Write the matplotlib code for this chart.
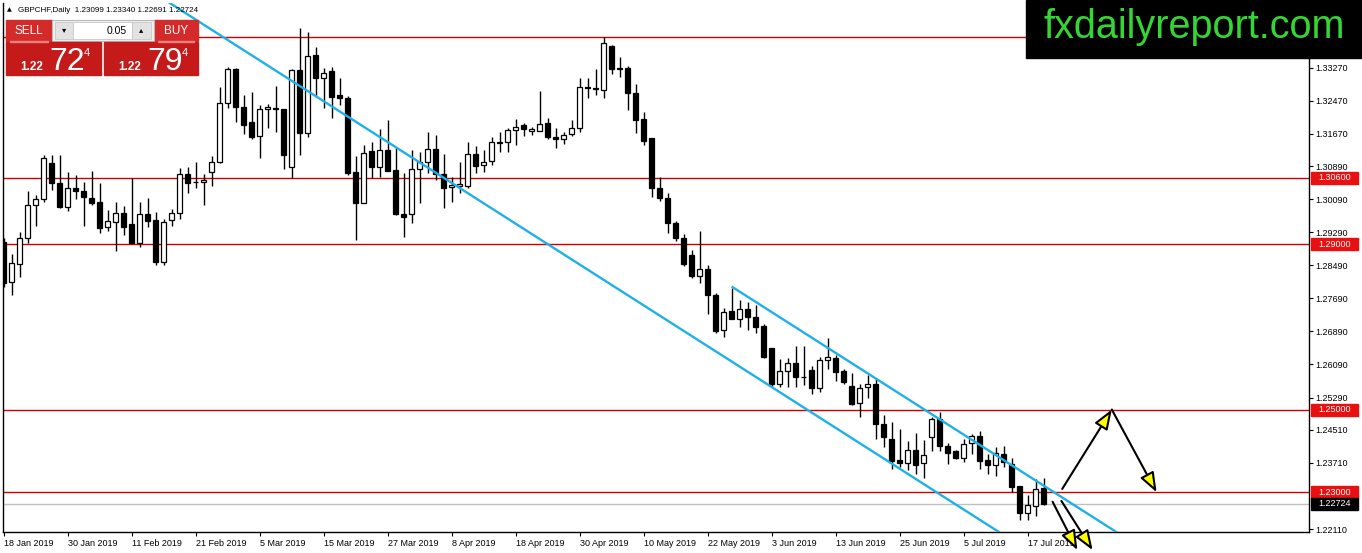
import matplotlib
matplotlib.use("Agg")
import matplotlib.pyplot as plt
import matplotlib.transforms as mtrans
from matplotlib.patches import Rectangle
import numpy as np

plt.rcParams['font.family'] = ['Liberation Sans', 'DejaVu Sans']

# GBPCHF daily candles, 18 Jan 2019 .. 19 Jul 2019
opens = [1.2906, 1.2808, 1.2851, 1.2914, 1.2994, 1.3008, 1.3096, 1.3047, 1.2989, 1.3036,
         1.3029, 1.3012, 1.3002, 1.2941, 1.2954, 1.2975, 1.2949, 1.2903, 1.2973, 1.2958,
         1.2858, 1.2958, 1.2975, 1.3069, 1.3050, 1.3050, 1.3074, 1.3098, 1.3241, 1.3324,
         1.3231, 1.3195, 1.3162, 1.3226, 1.3229, 1.3226, 1.3086, 1.3321, 1.3168, 1.3358,
         1.3303, 1.3319, 1.3261, 1.3254, 1.3074, 1.3000, 1.3125, 1.3086, 1.3128, 1.3079,
         1.2973, 1.2972, 1.3081, 1.3098, 1.3130, 1.3069, 1.3038, 1.3040, 1.3041, 1.3118,
         1.3091, 1.3101, 1.3145, 1.3146, 1.3176, 1.3187, 1.3174, 1.3174, 1.3192, 1.3159,
         1.3154, 1.3166, 1.3182, 1.3279, 1.3277, 1.3273, 1.3379, 1.3324, 1.3325, 1.3265,
         1.3202, 1.3156, 1.3035, 1.3011, 1.2950, 1.2916, 1.2874, 1.2823, 1.2841, 1.2777,
         1.2692, 1.2738, 1.2720, 1.2742, 1.2723, 1.2702, 1.2648, 1.2563, 1.2593, 1.2612,
         1.2578, 1.2595, 1.2551, 1.2620, 1.2625, 1.2593, 1.2557, 1.2515, 1.2555, 1.2562,
         1.2465, 1.2430, 1.2378, 1.2370, 1.2403, 1.2370, 1.2433, 1.2478, 1.2412, 1.2399,
         1.2384, 1.2420, 1.2436, 1.2378, 1.2366, 1.2392, 1.2368, 1.2315, 1.2249, 1.2266,
         1.23099]
highs = [1.2915, 1.2876, 1.2930, 1.3029, 1.3019, 1.3115, 1.3115, 1.3115, 1.3074, 1.3067,
         1.3050, 1.3077, 1.3047, 1.2983, 1.3001, 1.2992, 1.3059, 1.3001, 1.3012, 1.2977,
         1.2961, 1.2984, 1.3083, 1.3087, 1.3099, 1.3070, 1.3113, 1.3281, 1.3329, 1.3327,
         1.3261, 1.3267, 1.3237, 1.3238, 1.3283, 1.3228, 1.3324, 1.3422, 1.3414, 1.3376,
         1.3327, 1.3329, 1.3301, 1.3259, 1.3112, 1.3140, 1.3148, 1.3178, 1.3200, 1.3132,
         1.3071, 1.3128, 1.3124, 1.3171, 1.3164, 1.3118, 1.3063, 1.3099, 1.3146, 1.3137,
         1.3128, 1.3160, 1.3171, 1.3182, 1.3202, 1.3192, 1.3184, 1.3271, 1.3204, 1.3180,
         1.3172, 1.3200, 1.3301, 1.3303, 1.3323, 1.3400, 1.3382, 1.3352, 1.3331, 1.3287,
         1.3220, 1.3157, 1.3063, 1.3023, 1.2957, 1.2924, 1.2886, 1.2932, 1.2850, 1.2781,
         1.2745, 1.2795, 1.2765, 1.2761, 1.2753, 1.2708, 1.2649, 1.2622, 1.2624, 1.2653,
         1.2653, 1.2605, 1.2628, 1.2672, 1.2632, 1.2599, 1.2589, 1.2563, 1.2583, 1.2573,
         1.2488, 1.2470, 1.2454, 1.2424, 1.2444, 1.2426, 1.2481, 1.2493, 1.2418, 1.2402,
         1.2428, 1.2442, 1.2448, 1.2392, 1.2410, 1.2411, 1.2382, 1.2316, 1.2293, 1.2332,
         1.23340]
lows = [1.2796, 1.2777, 1.2821, 1.2903, 1.2945, 1.3003, 1.3031, 1.2987, 1.2981, 1.3008,
        1.2945, 1.2995, 1.2928, 1.2933, 1.2884, 1.2922, 1.2902, 1.2894, 1.2942, 1.2849,
        1.2849, 1.2945, 1.2960, 1.3023, 1.3037, 1.2995, 1.3041, 1.3096, 1.3229, 1.3196,
        1.3166, 1.3154, 1.3109, 1.3182, 1.3172, 1.3081, 1.3059, 1.3116, 1.3158, 1.3257,
        1.3230, 1.3204, 1.3237, 1.3067, 1.2910, 1.2999, 1.3059, 1.3063, 1.3076, 1.2971,
        1.2918, 1.2950, 1.3000, 1.3071, 1.3055, 1.2987, 1.3003, 1.3023, 1.3035, 1.3073,
        1.3075, 1.3091, 1.3124, 1.3124, 1.3140, 1.3162, 1.3164, 1.3173, 1.3154, 1.3132,
        1.3142, 1.3162, 1.3172, 1.3254, 1.3261, 1.3253, 1.3311, 1.3305, 1.3225, 1.3168,
        1.3140, 1.3013, 1.3005, 1.2928, 1.2908, 1.2848, 1.2817, 1.2807, 1.2730, 1.2684,
        1.2676, 1.2718, 1.2700, 1.2692, 1.2684, 1.2624, 1.2555, 1.2554, 1.2554, 1.2555,
        1.2559, 1.2537, 1.2543, 1.2599, 1.2569, 1.2563, 1.2511, 1.2481, 1.2527, 1.2430,
        1.2410, 1.2357, 1.2362, 1.2353, 1.2343, 1.2335, 1.2400, 1.2400, 1.2368, 1.2380,
        1.2374, 1.2392, 1.2357, 1.2345, 1.2340, 1.2362, 1.2301, 1.2234, 1.2232, 1.2243,
        1.22691]
closes = [1.2805, 1.2854, 1.2916, 1.2995, 1.3008, 1.3108, 1.3047, 1.2989, 1.3035, 1.3028,
          1.3013, 1.3000, 1.2940, 1.2955, 1.2975, 1.2941, 1.2903, 1.2972, 1.2957, 1.2857,
          1.2954, 1.2975, 1.3069, 1.3047, 1.3051, 1.3056, 1.3098, 1.3241, 1.3324, 1.3231,
          1.3188, 1.3158, 1.3226, 1.3232, 1.3226, 1.3116, 1.3321, 1.3168, 1.3356, 1.3303,
          1.3313, 1.3257, 1.3253, 1.3073, 1.3000, 1.3120, 1.3087, 1.3128, 1.3078, 1.2972,
          1.2965, 1.3081, 1.3099, 1.3130, 1.3069, 1.3035, 1.3043, 1.3045, 1.3117, 1.3090,
          1.3098, 1.3146, 1.3147, 1.3176, 1.3184, 1.3178, 1.3179, 1.3190, 1.3158, 1.3154,
          1.3163, 1.3180, 1.3279, 1.3278, 1.3275, 1.3386, 1.3323, 1.3325, 1.3265, 1.3200,
          1.3150, 1.3035, 1.3011, 1.2950, 1.2916, 1.2851, 1.2823, 1.2839, 1.2777, 1.2690,
          1.2735, 1.2720, 1.2742, 1.2723, 1.2700, 1.2628, 1.2561, 1.2593, 1.2612, 1.2578,
          1.2579, 1.2551, 1.2620, 1.2626, 1.2591, 1.2567, 1.2513, 1.2553, 1.2561, 1.2464,
          1.2434, 1.2376, 1.2370, 1.2403, 1.2367, 1.2391, 1.2476, 1.2412, 1.2396, 1.2383,
          1.2416, 1.2436, 1.2375, 1.2365, 1.2394, 1.2372, 1.2313, 1.2249, 1.2269, 1.2309,
          1.22724]

date_ticks = [0, 8, 16, 24, 32, 40, 48, 56, 64, 72, 80, 88, 96, 104, 112, 120, 128]
date_labels = ["18 Jan 2019", "30 Jan 2019", "11 Feb 2019", "21 Feb 2019", "5 Mar 2019",
               "15 Mar 2019", "27 Mar 2019", "8 Apr 2019", "18 Apr 2019", "30 Apr 2019",
               "10 May 2019", "22 May 2019", "3 Jun 2019", "13 Jun 2019", "25 Jun 2019",
               "5 Jul 2019", "17 Jul 2019"]
price_ticks = [1.33270, 1.32470, 1.31670, 1.30890, 1.30090, 1.29290, 1.28490, 1.27690,
               1.26890, 1.26090, 1.25290, 1.24510, 1.23710, 1.22110]

levels = [1.34000, 1.30600, 1.29000, 1.25000, 1.23000]
level_labels = [None, "1.30600", "1.29000", "1.25000", "1.23000"]
bid = 1.22724

# trend channel (two anchor points each)
line_a = [(21.0, 1.3480), (126.0, 1.2184)]
line_c = [(91.1, 1.2796), (141.0, 1.2180)]

# hand drawn arrows: (start, tip)
arrows = [((132.3, 1.2308), (138.5, 1.2500)),
          ((138.5, 1.2500), (144.1, 1.2300)),
          ((131.1, 1.2277), (134.2, 1.2160)),
          ((132.2, 1.2279), (136.1, 1.2160))]

W, H = 1362, 553
fig = plt.figure(figsize=(W / 100, H / 100), dpi=100)
fig.patch.set_facecolor("white")

def fxy(px, py):
    return px / W, 1 - py / H

ax = fig.add_axes([3 / W, 1 - 532 / H, 1306 / W, 529 / H])
ax.set_facecolor("white")
x0 = -0.1
ax.set_xlim(x0, x0 + 1306 / 8)
ax.set_ylim(1.22039, 1.34832)

idx = np.arange(len(opens))
o = np.array(opens); h = np.array(highs); l = np.array(lows); c = np.array(closes)

# horizontal levels and bid line
for lv in levels:
    ax.axhline(lv, color="#cc0000", lw=1, zorder=1)
ax.axhline(bid, color="#c0c0c0", lw=1, zorder=1)

# candles
ax.vlines(idx, l, h, color="black", lw=1, zorder=2)
up = c >= o
ax.bar(idx, np.abs(c - o), bottom=np.minimum(o, c), width=0.62,
       color=np.where(up, "white", "black"), edgecolor="black", linewidth=0.9, zorder=3)

# channel lines
blue = "#1fb1e6"
ax.axline(line_a[0], line_a[1], color=blue, lw=1.7, zorder=4)
ax.plot([line_c[0][0], line_c[1][0]], [line_c[0][1], line_c[1][1]], color=blue, lw=1.7, zorder=4)

for start, tip in arrows:
    ax.annotate("", xy=tip, xytext=start, annotation_clip=False, zorder=6,
                arrowprops=dict(arrowstyle="-|>,head_length=1.2,head_width=0.45",
                                fc="#ffff00", ec="black", lw=1.5, shrinkA=0, shrinkB=0))

# axes styling
ax.spines["top"].set_visible(False)
for s in ["left", "right", "bottom"]:
    ax.spines[s].set_color("black")
    ax.spines[s].set_linewidth(1)
ax.yaxis.tick_right()
ax.set_yticks(price_ticks, [f"{p:.5f}" for p in price_ticks])
ax.tick_params(axis="y", direction="out", length=3, width=0.8, pad=1.5, labelsize=6.5)
ax.set_xticks(date_ticks, date_labels)
ax.tick_params(axis="x", direction="out", length=3, width=0.8, pad=2, labelsize=6.5)
for lab in ax.get_xticklabels():
    lab.set_horizontalalignment("left")

# price labels on the right axis
trans = mtrans.blended_transform_factory(ax.transAxes, ax.transData)
ppx = (1.34832 - 1.22039) / 529
bw = 47 / 1306
for lv, txt in zip(levels, level_labels):
    if txt is None:
        continue
    ax.add_patch(Rectangle((1.0015, lv - 6 * ppx), bw, 12 * ppx, transform=trans,
                           color="#e81010", clip_on=False, zorder=7))
    ax.text(1.0015 + bw / 2, lv, txt, transform=trans, color="white", fontsize=6.5,
            ha="center", va="center", clip_on=False, zorder=8)
ax.add_patch(Rectangle((1.0015, bid - 6 * ppx), bw, 12 * ppx, transform=trans,
                       color="black", clip_on=False, zorder=7))
ax.text(1.0015 + bw / 2, bid, f"{bid:.5f}", transform=trans, color="white", fontsize=6.5,
        ha="center", va="center", clip_on=False, zorder=8)

# header text
fig.text(*fxy(7, 10), "\u25b2", fontsize=4.5, va="center", ha="left", family="DejaVu Sans")
fig.text(*fxy(18, 10), "GBPCHF,Daily  1.23099 1.23340 1.22691 1.22724",
         fontsize=5.8, va="center", ha="left")

# one-click trading panel
def fig_rect(x1, y1, x2, y2, **kw):
    fx, fy = fxy(x1, y2)
    fig.add_artist(Rectangle((fx, fy), (x2 - x1) / W, (y2 - y1) / H,
                             transform=fig.transFigure, **kw))

red_top = "#d42a2a"
red_box = "#c41a1a"
fig_rect(6, 20, 52, 41, color=red_top, zorder=10)
fig_rect(154, 20, 198, 41, color=red_top, zorder=10)
fig_rect(52, 20, 154, 41, facecolor="#f0f0f0", edgecolor="#b8b8b8", lw=0.8, zorder=10)
fig_rect(55, 22, 73, 39, facecolor="#e2e2e2", edgecolor="#c8c8c8", lw=0.6, zorder=11)
fig_rect(73, 22, 132, 39, facecolor="white", edgecolor="#c8c8c8", lw=0.6, zorder=11)
fig_rect(132, 22, 151, 39, facecolor="#e2e2e2", edgecolor="#c8c8c8", lw=0.6, zorder=11)
fig_rect(6, 42, 101, 75, color=red_box, zorder=10)
fig_rect(104, 42, 198, 75, color=red_box, zorder=10)
fig_rect(10, 41, 48, 42, color="#e88080", zorder=11)
fig_rect(158, 41, 194, 42, color="#e88080", zorder=11)

fig.text(*fxy(29, 31), "SELL", color="white", fontsize=8.5, ha="center", va="center", zorder=12)
fig.text(*fxy(176, 31), "BUY", color="white", fontsize=8.5, ha="center", va="center", zorder=12)
fig.text(*fxy(64, 30), "\u25be", color="black", fontsize=6, ha="center", va="center",
         family="DejaVu Sans", zorder=12)
fig.text(*fxy(141, 30), "\u25b4", color="black", fontsize=6, ha="center", va="center",
         family="DejaVu Sans", zorder=12)
fig.text(*fxy(127, 30.5), "0.05", color="black", fontsize=7.5, ha="right", va="center", zorder=12)

for bx, big in [(20, "72"), (118, "79")]:
    fig.text(*fxy(bx, 70), "1.22", color="white", fontsize=8.5, fontweight="bold",
             ha="left", va="baseline", zorder=12)
    fig.text(*fxy(bx + 29, 70), big, color="white", fontsize=23, ha="left", va="baseline",
             zorder=12)
    fig.text(*fxy(bx + 67, 56), "4", color="white", fontsize=8, ha="center", va="baseline",
             zorder=12)

# watermark box
fig_rect(1026, 0, 1362, 58, color="black", zorder=13)
fig.text(*fxy(1194, 38), "fxdailyreport.com", color="#33d633", fontsize=28.5,
         ha="center", va="baseline", zorder=14)

fig.savefig("out.png", dpi=100)
